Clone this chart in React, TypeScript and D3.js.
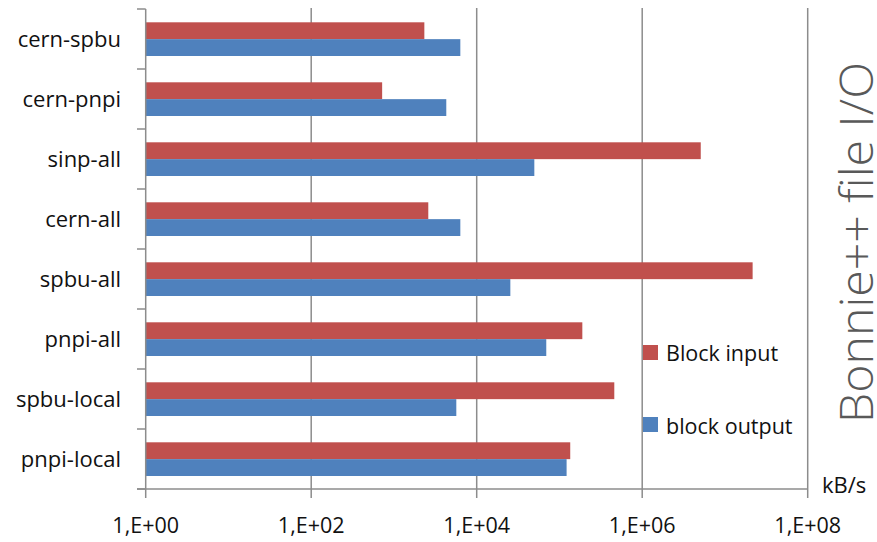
import React from "react";
import * as d3 from "d3";

const categories = ["cern-spbu", "cern-pnpi", "sinp-all", "cern-all", "spbu-all", "pnpi-all", "spbu-local", "pnpi-local"];
const blockInput = [2330, 720, 5.1e6, 2600, 2.16e7, 189000, 460000, 135000];
const blockOutput = [6340, 4290, 49700, 6340, 25500, 69300, 5670, 122000];
const xTicks = [1, 1e2, 1e4, 1e6, 1e8];
const xTickLabels = ["1,E+00", "1,E+02", "1,E+04", "1,E+06", "1,E+08"];
const seriesNames = ["Block input", "block output"];
const seriesColors = ["#C0504D", "#4F81BD"];

const W = 877;
const H = 542;
const FONT = "'Open Sans', 'Liberation Sans', sans-serif";

export default function App() {
  const x = d3.scaleLog().domain([1, 1e8]).range([145.7, 807.7]);
  const y0 = d3.scaleBand<string>().domain(categories).range([9, 489]).padding(0);
  const y1 = d3.scaleBand<string>().domain(["in", "out"]).range([13.3, 47]).padding(0);
  const grid = "#8c8c8c";
  const series = [blockInput, blockOutput];
  const keys = ["in", "out"];

  return (
    <div style={{ position: "absolute", left: 0, top: 0 }}>
      <svg width={W} height={H} style={{ display: "block" }}>
        <rect width={W} height={H} fill="#fff" />
        {/* gridlines */}
        {xTicks.slice(1).map((t) => (
          <line key={t} x1={x(t)} x2={x(t)} y1={8} y2={498} stroke={grid} strokeWidth={1.5} />
        ))}
        {/* bars */}
        {categories.map((c, i) => (
          <g key={c} transform={`translate(0,${y0(c)})`}>
            {series.map((s, k) => (
              <rect
                key={k}
                x={x(1)}
                y={y1(keys[k])}
                width={x(s[i]) - x(1)}
                height={y1.bandwidth()}
                fill={seriesColors[k]}
              />
            ))}
          </g>
        ))}
        {/* y axis */}
        <line x1={x(1)} x2={x(1)} y1={9} y2={498} stroke={grid} strokeWidth={1.5} />
        {d3.range(categories.length + 1).map((k) => {
          const yy = 9 + k * y0.step();
          return <line key={k} x1={137} x2={x(1)} y1={yy} y2={yy} stroke={grid} strokeWidth={1.5} />;
        })}
        {/* x axis */}
        <line x1={137} x2={x(1e8)} y1={489} y2={489} stroke={grid} strokeWidth={1.5} />
        {xTicks.map((t, i) => (
          <text key={t} x={x(t)} y={533} textAnchor="middle" fontFamily={FONT} fontSize={21.5} fill="#111">
            {xTickLabels[i]}
          </text>
        ))}
        {/* category labels */}
        {categories.map((c) => (
          <text
            key={c}
            x={121}
            y={(y0(c) as number) + y0.bandwidth() / 2 + 8}
            textAnchor="end"
            fontFamily={FONT}
            fontSize={22}
            fill="#111"
          >
            {c}
          </text>
        ))}
        {/* legend */}
        {seriesNames.map((n, k) => (
          <g key={n}>
            <rect x={643} y={345 + k * 72} width={15} height={15} fill={seriesColors[k]} />
            <text x={666} y={361 + k * 73} fontFamily={FONT} fontSize={21.5} fill="#111">
              {n}
            </text>
          </g>
        ))}
        {/* unit */}
        <text x={822} y={493} fontFamily={FONT} fontSize={22} fill="#111">
          kB/s
        </text>
        {/* title */}
        <text
          transform={`translate(873,423) rotate(-90)`}
          fontFamily={FONT}
          fontSize={46}
          fontWeight={300}
          fill="#595959"
          textLength={361}
          lengthAdjust="spacingAndGlyphs"
        >
          Bonnie++ file I/O
        </text>
      </svg>
    </div>
  );
}
